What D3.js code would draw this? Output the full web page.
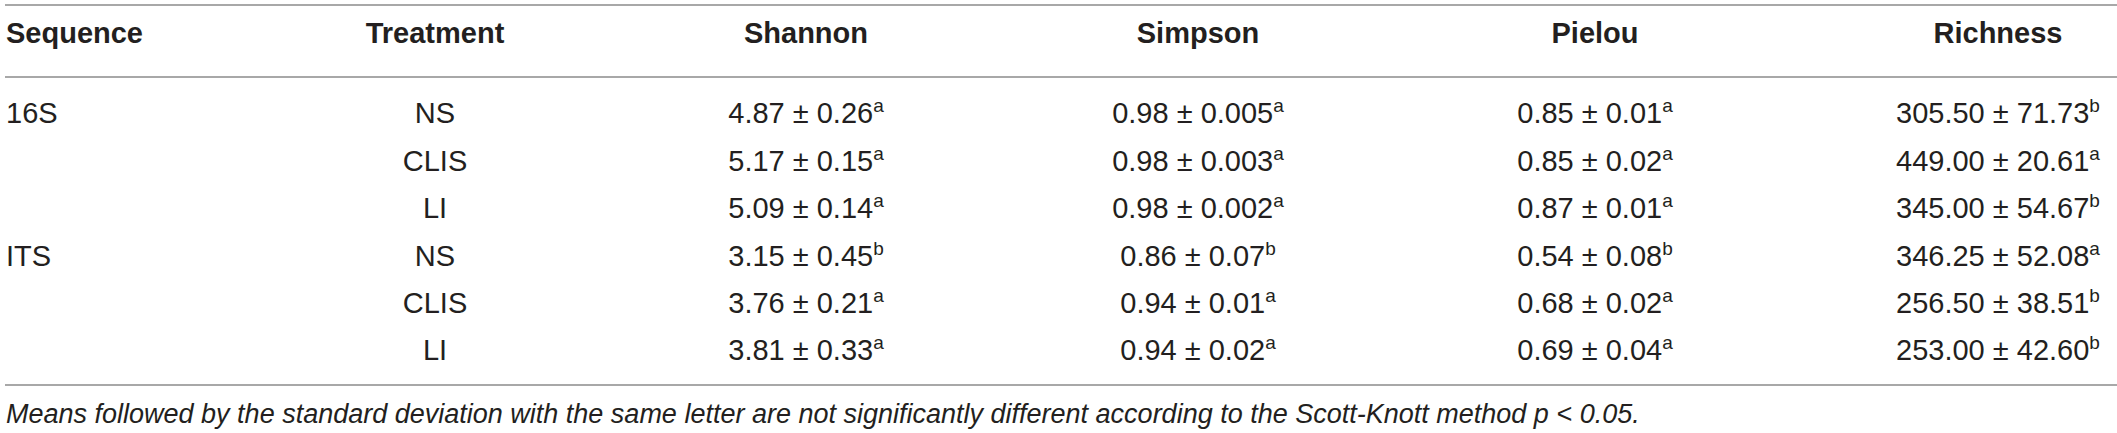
<!DOCTYPE html>
<html>
<head>
<meta charset="utf-8">
<script src="https://cdn.jsdelivr.net/npm/d3@7"></script>
<style>
  body { margin: 0; background: #fff; }
  svg { display: block; }
</style>
</head>
<body>
<div id="table"></div>
<script>
// table values
const sequences = ["16S", "16S", "16S", "ITS", "ITS", "ITS"]
const treatments = ["NS", "CLIS", "LI", "NS", "CLIS", "LI"]

const shannonMean = [4.87, 5.17, 5.09, 3.15, 3.76, 3.81]
const shannonSd = [0.26, 0.15, 0.14, 0.45, 0.21, 0.33]
const shannonGroup = ["a", "a", "a", "b", "a", "a"]

const simpsonMean = [0.98, 0.98, 0.98, 0.86, 0.94, 0.94]
const simpsonSd = [0.005, 0.003, 0.002, 0.07, 0.01, 0.02]
const simpsonGroup = ["a", "a", "a", "b", "a", "a"]

const pielouMean = [0.85, 0.85, 0.87, 0.54, 0.68, 0.69]
const pielouSd = [0.01, 0.02, 0.01, 0.08, 0.02, 0.04]
const pielouGroup = ["a", "a", "a", "b", "a", "a"]

const richnessMean = [305.50, 449.00, 345.00, 346.25, 256.50, 253.00]
const richnessSd = [71.73, 20.61, 54.67, 52.08, 38.51, 42.60]
const richnessGroup = ["b", "a", "b", "a", "b", "b"]

const headers = ["Sequence", "Treatment", "Shannon", "Simpson", "Pielou", "Richness"]
const footnote = "Means followed by the standard deviation with the same letter are not significantly different according to the Scott-Knott method p < 0.05."

const width = 2117,
    height = 433,
    font = "'Liberation Sans', Arial, Helvetica, sans-serif"

const fmt = v => v < 0.01 ? v.toFixed(3) : v.toFixed(2)

const metrics = [
    { mean: shannonMean, sd: shannonSd, group: shannonGroup },
    { mean: simpsonMean, sd: simpsonSd, group: simpsonGroup },
    { mean: pielouMean, sd: pielouSd, group: pielouGroup },
    { mean: richnessMean, sd: richnessSd, group: richnessGroup }
]

// column centres (Sequence is left aligned)
const colX = d3.scaleOrdinal()
    .domain(headers)
    .range([6, 435, 806, 1198, 1595, 1998])

const rowY = d3.scalePoint()
    .domain(d3.range(treatments.length))
    .range([113, 350])

const svg = d3.select("#table").append("svg")
    .attr("width", width)
    .attr("height", height)
    .style("font-family", font)

// rules
const rules = [5, 77, 385]
svg.selectAll("line.rule")
    .data(rules)
    .join("line")
    .attr("class", "rule")
    .attr("x1", 5)
    .attr("x2", width)
    .attr("y1", d => d)
    .attr("y2", d => d)
    .attr("stroke", "#a8a8a8")
    .attr("stroke-width", 2)

// header
svg.selectAll("text.head")
    .data(headers)
    .join("text")
    .attr("class", "head")
    .attr("x", d => colX(d))
    .attr("y", 33)
    .attr("dy", "0.36em")
    .attr("text-anchor", (d, i) => i === 0 ? "start" : "middle")
    .attr("font-size", 29)
    .attr("font-weight", "bold")
    .attr("fill", "#231f20")
    .text(d => d)

const body = svg.append("g")
    .attr("font-size", 29)
    .attr("fill", "#231f20")

// sequence labels, first row of each group only
body.selectAll("text.seq")
    .data(sequences.map((s, i) => ({ s, i })).filter(d => d.i === 0 || sequences[d.i - 1] !== d.s))
    .join("text")
    .attr("class", "seq")
    .attr("x", colX("Sequence"))
    .attr("y", d => rowY(d.i))
    .attr("dy", "0.36em")
    .text(d => d.s)

body.selectAll("text.trt")
    .data(treatments)
    .join("text")
    .attr("class", "trt")
    .attr("x", colX("Treatment"))
    .attr("y", (d, i) => rowY(i))
    .attr("dy", "0.36em")
    .attr("text-anchor", "middle")
    .text(d => d)

metrics.forEach((m, k) => {
    const cells = body.selectAll(null)
        .data(m.mean.map((v, i) => ({ v, i, sd: m.sd[i], g: m.group[i] })))
        .join("text")
        .attr("x", colX(headers[k + 2]))
        .attr("y", d => rowY(d.i))
        .attr("dy", "0.36em")
        .attr("text-anchor", "middle")

    cells.append("tspan")
        .text(d => `${fmt(d.v)} \u00b1 ${fmt(d.sd)}`)
    cells.append("tspan")
        .attr("dy", -11)
        .attr("font-size", 19)
        .text(d => d.g)
})

svg.append("text")
    .attr("x", 6)
    .attr("y", 413)
    .attr("dy", "0.36em")
    .attr("font-size", 27)
    .attr("font-style", "italic")
    .attr("fill", "#231f20")
    .text(footnote)
</script>
</body>
</html>
